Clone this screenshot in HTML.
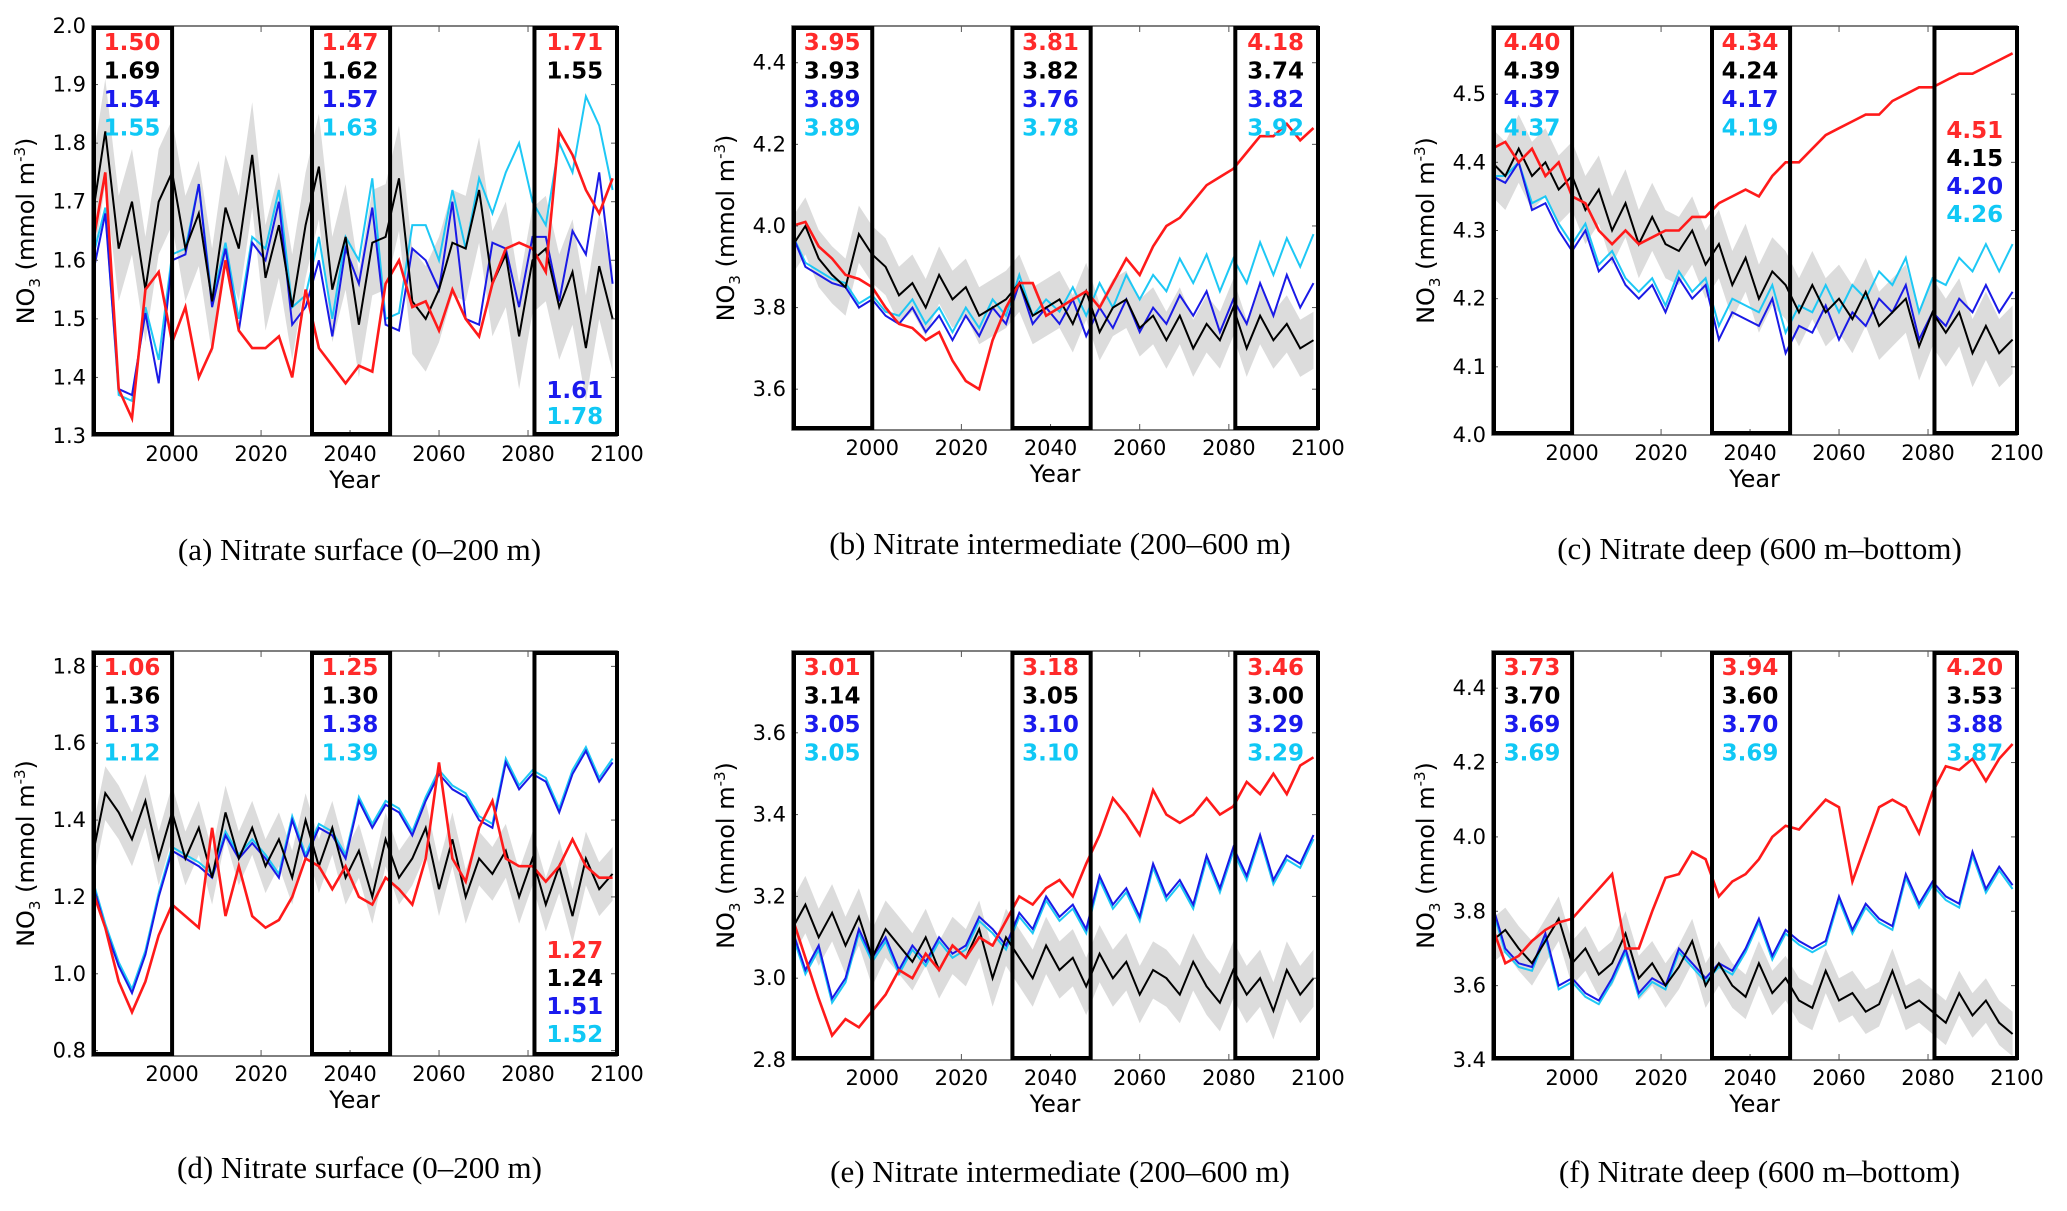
<!DOCTYPE html>
<html><head><meta charset="utf-8">
<style>
html,body{margin:0;padding:0;background:#fff;}
svg{display:block;}
.tick{font-family:"DejaVu Sans","Liberation Sans",sans-serif;font-size:21px;fill:#000;}
.ylab{font-family:"DejaVu Sans","Liberation Sans",sans-serif;font-size:24px;fill:#000;}
.xlab{font-family:"DejaVu Sans","Liberation Sans",sans-serif;font-size:24px;fill:#000;}
.ann{font-family:"DejaVu Sans","Liberation Sans",sans-serif;font-size:23px;font-weight:bold;}
.cap{font-family:"Liberation Serif",serif;font-size:31px;fill:#000;}
</style></head>
<body>
<svg id="fig" width="2067" height="1211" viewBox="0 0 2067 1211" xmlns="http://www.w3.org/2000/svg"></svg>
<script>
// ---- data (sampled every 3 years from 1982) ----
const years = [1982,1985,1988,1991,1994,1997,2000,2003,2006,2009,2012,2015,2018,2021,2024,2027,2030,2033,2036,2039,2042,2045,2048,2051,2054,2057,2060,2063,2066,2069,2072,2075,2078,2081,2084,2087,2090,2093,2096,2099];
const boxYears = [[1982,2000],[2031,2049],[2081,2100]];
const seriesNames = ["black","red","blue","cyan"];

const aBlack=[1.67,1.82,1.62,1.70,1.55,1.70,1.75,1.62,1.68,1.53,1.69,1.62,1.78,1.57,1.66,1.52,1.66,1.76,1.55,1.64,1.49,1.63,1.64,1.74,1.53,1.50,1.55,1.63,1.62,1.72,1.56,1.61,1.47,1.60,1.62,1.52,1.58,1.45,1.59,1.50];
const aRed=[1.62,1.75,1.38,1.33,1.55,1.58,1.46,1.52,1.40,1.45,1.60,1.48,1.45,1.45,1.47,1.40,1.55,1.45,1.42,1.39,1.42,1.41,1.56,1.60,1.52,1.53,1.48,1.55,1.50,1.47,1.56,1.62,1.63,1.62,1.58,1.82,1.78,1.72,1.68,1.74];
const aBlue=[1.57,1.68,1.38,1.37,1.51,1.39,1.60,1.61,1.73,1.52,1.62,1.48,1.63,1.60,1.70,1.49,1.52,1.60,1.47,1.62,1.56,1.69,1.49,1.48,1.62,1.60,1.55,1.70,1.50,1.49,1.63,1.62,1.52,1.64,1.64,1.53,1.65,1.61,1.75,1.56];
const aCyan=[1.60,1.69,1.37,1.36,1.52,1.43,1.61,1.62,1.73,1.53,1.63,1.50,1.64,1.62,1.72,1.52,1.54,1.64,1.50,1.64,1.60,1.74,1.50,1.51,1.66,1.66,1.60,1.72,1.62,1.74,1.68,1.75,1.80,1.70,1.66,1.80,1.75,1.88,1.83,1.72];

const bBlack=[3.95,4.00,3.92,3.88,3.85,3.98,3.93,3.90,3.83,3.86,3.80,3.88,3.82,3.85,3.78,3.80,3.82,3.86,3.78,3.80,3.82,3.76,3.84,3.74,3.80,3.82,3.75,3.78,3.72,3.78,3.70,3.76,3.72,3.80,3.70,3.78,3.72,3.76,3.70,3.72];
const bRed=[4.00,4.01,3.95,3.92,3.88,3.87,3.85,3.80,3.76,3.75,3.72,3.74,3.67,3.62,3.60,3.72,3.80,3.86,3.86,3.78,3.80,3.82,3.84,3.80,3.86,3.92,3.88,3.95,4.00,4.02,4.06,4.10,4.12,4.14,4.18,4.22,4.22,4.25,4.21,4.24];
const bBlue=[3.98,3.90,3.88,3.86,3.85,3.80,3.82,3.78,3.76,3.80,3.74,3.78,3.72,3.78,3.73,3.80,3.76,3.86,3.76,3.80,3.76,3.82,3.73,3.80,3.75,3.82,3.74,3.80,3.76,3.83,3.78,3.84,3.74,3.82,3.76,3.86,3.78,3.88,3.80,3.86];
const bCyan=[3.98,3.91,3.89,3.87,3.86,3.81,3.83,3.79,3.78,3.82,3.76,3.80,3.74,3.80,3.75,3.82,3.78,3.88,3.78,3.82,3.79,3.85,3.78,3.86,3.80,3.88,3.82,3.88,3.84,3.92,3.86,3.93,3.84,3.92,3.86,3.96,3.88,3.97,3.90,3.98];

const cBlack=[4.40,4.38,4.42,4.38,4.40,4.36,4.38,4.33,4.36,4.30,4.34,4.28,4.32,4.28,4.27,4.30,4.25,4.28,4.22,4.26,4.20,4.24,4.22,4.18,4.22,4.18,4.20,4.17,4.21,4.16,4.18,4.20,4.13,4.18,4.15,4.18,4.12,4.16,4.12,4.14];
const cRed=[4.42,4.43,4.40,4.42,4.38,4.40,4.35,4.34,4.30,4.28,4.30,4.28,4.29,4.30,4.30,4.32,4.32,4.34,4.35,4.36,4.35,4.38,4.40,4.40,4.42,4.44,4.45,4.46,4.47,4.47,4.49,4.50,4.51,4.51,4.52,4.53,4.53,4.54,4.55,4.56];
const cBlue=[4.38,4.37,4.40,4.33,4.34,4.30,4.27,4.30,4.24,4.26,4.22,4.20,4.22,4.18,4.23,4.20,4.22,4.14,4.18,4.17,4.16,4.20,4.12,4.16,4.15,4.19,4.14,4.18,4.16,4.20,4.18,4.22,4.14,4.18,4.16,4.20,4.18,4.22,4.18,4.21];
const cCyan=[4.38,4.38,4.40,4.34,4.35,4.31,4.28,4.31,4.25,4.27,4.23,4.21,4.23,4.19,4.24,4.21,4.23,4.16,4.20,4.19,4.18,4.22,4.15,4.19,4.18,4.22,4.18,4.22,4.20,4.24,4.22,4.26,4.18,4.23,4.22,4.26,4.24,4.28,4.24,4.28];

const dBlack=[1.30,1.47,1.42,1.35,1.45,1.30,1.42,1.30,1.38,1.25,1.42,1.30,1.38,1.28,1.35,1.25,1.40,1.28,1.38,1.25,1.32,1.20,1.35,1.25,1.30,1.38,1.22,1.35,1.20,1.30,1.26,1.32,1.20,1.30,1.18,1.28,1.15,1.30,1.22,1.26];
const dRed=[1.22,1.12,0.98,0.90,0.98,1.10,1.18,1.15,1.12,1.38,1.15,1.28,1.15,1.12,1.14,1.20,1.30,1.28,1.22,1.28,1.20,1.18,1.25,1.22,1.18,1.30,1.55,1.30,1.24,1.38,1.45,1.30,1.28,1.28,1.24,1.28,1.35,1.28,1.25,1.25];
const dBlue=[1.24,1.12,1.02,0.95,1.05,1.20,1.32,1.30,1.28,1.25,1.36,1.30,1.34,1.30,1.25,1.40,1.30,1.38,1.36,1.30,1.45,1.38,1.44,1.42,1.36,1.45,1.52,1.48,1.46,1.40,1.38,1.55,1.48,1.52,1.50,1.42,1.52,1.58,1.50,1.55];
const dCyan=[1.25,1.13,1.03,0.96,1.06,1.21,1.33,1.31,1.29,1.26,1.37,1.31,1.35,1.31,1.26,1.41,1.31,1.39,1.37,1.31,1.46,1.39,1.45,1.43,1.37,1.46,1.53,1.49,1.47,1.41,1.39,1.56,1.49,1.53,1.51,1.43,1.53,1.59,1.51,1.56];

const eBlack=[3.12,3.18,3.10,3.16,3.08,3.15,3.05,3.12,3.08,3.04,3.10,3.02,3.08,3.05,3.12,3.00,3.10,3.05,3.00,3.08,3.02,3.05,2.98,3.06,3.00,3.04,2.96,3.02,3.00,2.96,3.04,2.98,2.94,3.02,2.96,3.00,2.92,3.02,2.96,3.00];
const eRed=[3.15,3.05,2.95,2.86,2.90,2.88,2.92,2.96,3.02,3.00,3.06,3.02,3.08,3.05,3.10,3.08,3.14,3.20,3.18,3.22,3.24,3.20,3.28,3.35,3.44,3.40,3.35,3.46,3.40,3.38,3.40,3.44,3.40,3.42,3.48,3.45,3.50,3.45,3.52,3.54];
const eBlue=[3.12,3.02,3.08,2.95,3.00,3.12,3.05,3.10,3.02,3.08,3.04,3.10,3.06,3.08,3.15,3.12,3.08,3.16,3.12,3.20,3.15,3.18,3.12,3.25,3.18,3.22,3.15,3.28,3.20,3.24,3.18,3.30,3.22,3.32,3.25,3.35,3.24,3.30,3.28,3.35];
const eCyan=[3.11,3.01,3.07,2.94,2.99,3.11,3.04,3.09,3.01,3.07,3.03,3.09,3.05,3.07,3.14,3.11,3.07,3.15,3.11,3.19,3.14,3.17,3.11,3.24,3.17,3.21,3.14,3.27,3.19,3.23,3.17,3.29,3.21,3.31,3.24,3.34,3.23,3.29,3.27,3.34];

const fBlack=[3.72,3.75,3.70,3.66,3.72,3.78,3.66,3.70,3.63,3.66,3.74,3.62,3.66,3.60,3.65,3.72,3.60,3.66,3.60,3.57,3.66,3.58,3.62,3.56,3.54,3.64,3.56,3.58,3.53,3.55,3.64,3.54,3.56,3.53,3.50,3.58,3.52,3.56,3.50,3.47];
const fRed=[3.76,3.66,3.68,3.72,3.75,3.77,3.78,3.82,3.86,3.90,3.70,3.70,3.80,3.89,3.90,3.96,3.94,3.84,3.88,3.90,3.94,4.00,4.03,4.02,4.06,4.10,4.08,3.88,3.98,4.08,4.10,4.08,4.01,4.12,4.19,4.18,4.21,4.15,4.21,4.25];
const fBlue=[3.82,3.70,3.66,3.65,3.74,3.60,3.62,3.58,3.56,3.62,3.70,3.58,3.62,3.60,3.70,3.66,3.62,3.66,3.64,3.70,3.78,3.68,3.75,3.72,3.70,3.72,3.84,3.75,3.82,3.78,3.76,3.90,3.82,3.88,3.84,3.82,3.96,3.86,3.92,3.87];
const fCyan=[3.81,3.69,3.65,3.64,3.73,3.59,3.61,3.57,3.55,3.61,3.69,3.57,3.61,3.59,3.69,3.65,3.61,3.65,3.63,3.69,3.77,3.67,3.74,3.71,3.69,3.71,3.83,3.74,3.81,3.77,3.75,3.89,3.81,3.87,3.83,3.81,3.95,3.85,3.91,3.86];

const bandHalf = [0.09,0.07,0.05,0.07,0.07,0.06];

const yTicksA=["1.3","1.4","1.5","1.6","1.7","1.8","1.9","2.0"];
const yTicksB=["3.6","3.8","4.0","4.2","4.4"];
const yTicksC=["4.0","4.1","4.2","4.3","4.4","4.5"];
const yTicksD=["0.8","1.0","1.2","1.4","1.6","1.8"];
const yTicksE=["2.8","3.0","3.2","3.4","3.6"];
const yTicksF=["3.4","3.6","3.8","4.0","4.2","4.4"];
const xTicks=["2000","2020","2040","2060","2080","2100"];

const annA=[["1.50","1.69","1.54","1.55"],["1.47","1.62","1.57","1.63"],["1.71","1.55","1.61","1.78"]];
const annB=[["3.95","3.93","3.89","3.89"],["3.81","3.82","3.76","3.78"],["4.18","3.74","3.82","3.92"]];
const annC=[["4.40","4.39","4.37","4.37"],["4.34","4.24","4.17","4.19"],["4.51","4.15","4.20","4.26"]];
const annD=[["1.06","1.36","1.13","1.12"],["1.25","1.30","1.38","1.39"],["1.27","1.24","1.51","1.52"]];
const annE=[["3.01","3.14","3.05","3.05"],["3.18","3.05","3.10","3.10"],["3.46","3.00","3.29","3.29"]];
const annF=[["3.73","3.70","3.69","3.69"],["3.94","3.60","3.70","3.69"],["4.20","3.53","3.88","3.87"]];

const captions=["(a) Nitrate surface (0–200 m)","(b) Nitrate intermediate (200–600 m)","(c) Nitrate deep (600 m–bottom)","(d) Nitrate surface (0–200 m)","(e) Nitrate intermediate (200–600 m)","(f) Nitrate deep (600 m–bottom)"];

const panels=[
 {id:"a",x0:92,x1:617,y0:26,y1:436,ymin:1.3,ymax:2.0,ticks:yTicksA,s:[aBlack,aRed,aBlue,aCyan],ann:annA,mode:[0,0,2],cap:0},
 {id:"b",x0:792,x1:1318,y0:26,y1:430,ymin:3.5,ymax:4.49,ticks:yTicksB,s:[bBlack,bRed,bBlue,bCyan],ann:annB,mode:[0,0,0],cap:1},
 {id:"c",x0:1492,x1:2017,y0:26,y1:435,ymin:4.0,ymax:4.6,ticks:yTicksC,s:[cBlack,cRed,cBlue,cCyan],ann:annC,mode:[0,0,1],cap:2},
 {id:"d",x0:92,x1:617,y0:651,y1:1056,ymin:0.786,ymax:1.84,ticks:yTicksD,s:[dBlack,dRed,dBlue,dCyan],ann:annD,mode:[0,0,3],cap:3},
 {id:"e",x0:792,x1:1318,y0:651,y1:1060,ymin:2.8,ymax:3.8,ticks:yTicksE,s:[eBlack,eRed,eBlue,eCyan],ann:annE,mode:[0,0,0],cap:4},
 {id:"f",x0:1492,x1:2017,y0:651,y1:1060,ymin:3.4,ymax:4.5,ticks:yTicksF,s:[fBlack,fRed,fBlue,fCyan],ann:annF,mode:[0,0,0],cap:5}
];
const colors={black:"#000000",red:"#ff1a1a",blue:"#1a1ae6",cyan:"#1ec8f5"};
const annColors=["#ff2a2a","#000000","#1a1aee","#10c8f5"];
const annOrder=[1,0,2,3];

const NS="http://www.w3.org/2000/svg";
const svg=document.getElementById("fig");
function mk(tag,attrs,parent){const e=document.createElementNS(NS,tag);for(const k in attrs)e.setAttribute(k,attrs[k]);(parent||svg).appendChild(e);return e;}

panels.forEach((p,pi)=>{
  const g=mk("g",{});
  
  
  const X=yr=>p.x0+(yr-1982)/(2100-1982)*(p.x1-p.x0);
  const Y=v=>p.y1-(v-p.ymin)/(p.ymax-p.ymin)*(p.y1-p.y0);
  const cp=mk("clipPath",{id:"clip"+p.id},g);
  mk("rect",{x:p.x0,y:p.y0,width:p.x1-p.x0,height:p.y1-p.y0},cp);
  const blk=p.s[0];const w=bandHalf[pi];
  let d="";
  years.forEach((yr,i)=>{d+=(i?"L":"M")+X(yr).toFixed(1)+","+Y(blk[i]+w).toFixed(1);});
  for(let i=years.length-1;i>=0;i--){d+="L"+X(years[i]).toFixed(1)+","+Y(blk[i]-w).toFixed(1);}
  const band=mk("path",{d:d+"Z",fill:"#dcdcdc",stroke:"none","clip-path":"url(#clip"+p.id+")"},g);
  
  
  [3,2,0,1].forEach(si=>{
    const arr=p.s[si];
    const pts=years.map((yr,i)=>X(yr).toFixed(1)+","+Y(arr[i]).toFixed(1)).join(" ");
    const pl=mk("polyline",{points:pts,fill:"none",stroke:colors[seriesNames[si]],"stroke-width":si===1?2.6:2,"clip-path":"url(#clip"+p.id+")"},g);
    
    
  });
  const fr=mk("rect",{x:p.x0,y:p.y0,width:p.x1-p.x0,height:p.y1-p.y0,fill:"none",stroke:"#555","stroke-width":1.5},g);
  
  
  p.ticks.forEach(t=>{
    const v=parseFloat(t);const yy=Y(v);
    mk("line",{x1:p.x0,x2:p.x0+6,y1:yy,y2:yy,stroke:"#555","stroke-width":1},g);
    mk("line",{x1:p.x1,x2:p.x1-6,y1:yy,y2:yy,stroke:"#555","stroke-width":1},g);
    const tx=mk("text",{x:p.x0-6,y:yy+7,"text-anchor":"end",class:"tick"},g);
    tx.textContent=t;
    
    
  });
  xTicks.forEach(t=>{
    const xx=X(parseFloat(t));
    mk("line",{x1:xx,x2:xx,y1:p.y1,y2:p.y1-6,stroke:"#555","stroke-width":1},g);
    mk("line",{x1:xx,x2:xx,y1:p.y0,y2:p.y0+6,stroke:"#555","stroke-width":1},g);
    const tx=mk("text",{x:xx,y:p.y1+25,"text-anchor":"middle",class:"tick"},g);
    tx.textContent=t;
    
    
  });
  boxYears.forEach((b,bi)=>{
    const r=mk("rect",{x:X(b[0])+2,y:p.y0+2,width:X(b[1])-X(b[0])-2,height:p.y1-p.y0-4,fill:"none",stroke:"#000","stroke-width":4},g);
    
    
    const cx=(X(b[0])+X(b[1]))/2;
    const vals=p.ann[bi];
    const mode=p.mode[bi];
    annOrder.forEach((si,k)=>{
      let ty;
      const topY=p.y0+24+k*28.5;
      if(mode===0) ty=topY;
      else if(mode===1) ty=p.y0+112+k*28;
      else if(mode===2) ty=(k<2)?topY: p.y1-(k===2?38:12);
      else ty=p.y1-14-(3-k)*28;
      const tx=mk("text",{x:cx,y:ty,"text-anchor":"middle",class:"ann",fill:annColors[k]},g);
      tx.textContent=vals[k];
      
      
    });
  });
  const xl=mk("text",{x:(p.x0+p.x1)/2,y:p.y1+52,"text-anchor":"middle",class:"xlab"},g);
  xl.textContent="Year";
  
  
  const yx=p.x0-58, yy=(p.y0+p.y1)/2;
  const yl=mk("text",{x:yx,y:yy,"text-anchor":"middle",class:"ylab",transform:"rotate(-90 "+yx+" "+yy+")"},g);
  yl.innerHTML='NO<tspan font-size="15" dy="6">3</tspan><tspan dy="-6"> (mmol m</tspan><tspan font-size="15" dy="-9">-3</tspan><tspan dy="9">)</tspan>';
  
  
  const cap=mk("text",{x:(p.x0+p.x1)/2+5,y:p.y1+(pi<3?124:122),"text-anchor":"middle",class:"cap"},g);
  cap.textContent=captions[p.cap];
  
  
});
</script>
</body></html>
